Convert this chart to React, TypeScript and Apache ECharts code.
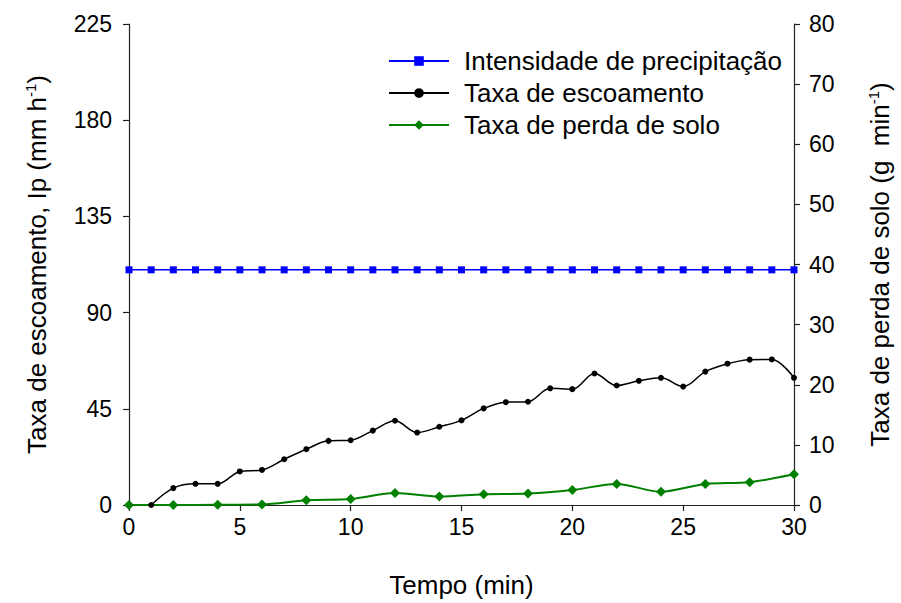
import React, { useEffect, useRef } from "react";
import * as echarts from "echarts";

const precipTimes = [0,1,2,3,4,5,6,7,8,9,10,11,12,13,14,15,16,17,18,19,20,21,22,23,24,25,26,27,28,29,30];
const precipValues = [110,110,110,110,110,110,110,110,110,110,110,110,110,110,110,110,110,110,110,110,110,110,110,110,110,110,110,110,110,110,110];

const runoffTimes = [1,2,3,4,5,6,7,8,9,10,11,12,13,14,15,16,17,18,19,20,21,22,23,24,25,26,27,28,29,30];
const runoffValues = [0,7.9,9.9,9.9,15.7,16.4,21.4,26.1,30.0,30.3,34.8,39.4,33.9,36.6,39.6,45.2,48.1,48.3,54.6,54.2,61.5,55.9,58.1,59.5,55.4,62.4,66.1,68.0,68.1,59.5];

const soilTimes = [0,2,4,6,8,10,12,14,16,18,20,22,24,26,28,30];
const soilValues = [0,0,0.05,0.1,0.8,1.0,2.0,1.4,1.8,1.9,2.5,3.5,2.2,3.5,3.8,5.1];

const xTicks = { min: 0, max: 30, interval: 5 };
const leftTicks = { min: 0, max: 225, interval: 45 };
const rightTicks = { min: 0, max: 80, interval: 10 };

const FONT = "'Liberation Sans', Arial, sans-serif";

export default function App() {
  const ref = useRef<HTMLDivElement>(null);
  useEffect(() => {
    if (!ref.current) return;
    const chart = echarts.init(ref.current, undefined, { renderer: "svg" });
    const axisLine = { show: true, lineStyle: { color: "#222", width: 1.2 } };
    const axisTick = { show: true, inside: false, length: 6, lineStyle: { color: "#222", width: 1.2 } };
    const axisLabel = { color: "#000", fontSize: 23, fontFamily: FONT };
    const sup = { fontSize: 15, color: "#000", fontFamily: FONT, verticalAlign: "top", padding: [0, 0, 13, 0] };
    chart.setOption({
      animation: false,
      backgroundColor: "#fff",
      textStyle: { fontFamily: FONT },
      grid: { left: 129, right: 101, top: 24, bottom: 96, containLabel: false },
      legend: {
        orient: "vertical",
        left: 388,
        top: 48,
        padding: 0,
        itemGap: 6,
        itemWidth: 60,
        itemHeight: 12,
        textStyle: { fontSize: 26, color: "#000", fontFamily: FONT, padding: [0, 0, 0, 10] },
        data: ["Intensidade de precipitação", "Taxa de escoamento", "Taxa de perda de solo"],
      },
      xAxis: {
        type: "value",
        ...xTicks,
        name: "Tempo (min)",
        nameLocation: "middle",
        nameGap: 67,
        nameTextStyle: { fontSize: 26, color: "#000", fontFamily: FONT },
        axisLine,
        axisTick,
        axisLabel: { ...axisLabel, margin: 10 },
        splitLine: { show: false },
      },
      yAxis: [
        {
          type: "value",
          position: "left",
          ...leftTicks,
          name: "Taxa de escoamento, Ip (mm h{sup|-1})",
          nameLocation: "middle",
          nameGap: 78,
          nameRotate: 90,
          nameTextStyle: { fontSize: 26, color: "#000", fontFamily: FONT, rich: { sup } },
          axisLine,
          axisTick,
          axisLabel: { ...axisLabel, margin: 17 },
          splitLine: { show: false },
        },
        {
          type: "value",
          position: "right",
          ...rightTicks,
          name: "Taxa de perda de solo (g  min{sup|-1})",
          nameLocation: "middle",
          nameGap: 72,
          nameRotate: 90,
          nameTextStyle: { fontSize: 26, color: "#000", fontFamily: FONT, rich: { sup } },
          axisLine,
          axisTick,
          axisLabel: { ...axisLabel, margin: 15 },
          splitLine: { show: false },
        },
      ],
      series: [
        {
          name: "Intensidade de precipitação",
          type: "line",
          yAxisIndex: 0,
          data: precipTimes.map((t, i) => [t, precipValues[i]]),
          symbol: "rect",
          symbolSize: 7,
          itemStyle: { color: "#0000ff" },
          lineStyle: { color: "#0000ff", width: 1.5 },
        },
        {
          name: "Taxa de escoamento",
          type: "line",
          yAxisIndex: 0,
          smooth: 0.35,
          data: runoffTimes.map((t, i) => [t, runoffValues[i]]),
          symbol: "circle",
          symbolSize: 6,
          itemStyle: { color: "#000" },
          lineStyle: { color: "#000", width: 1.5 },
        },
        {
          name: "Taxa de perda de solo",
          type: "line",
          yAxisIndex: 1,
          smooth: 0.3,
          data: soilTimes.map((t, i) => [t, soilValues[i]]),
          symbol: "diamond",
          symbolSize: 10,
          itemStyle: { color: "#008000" },
          lineStyle: { color: "#008000", width: 2 },
        },
      ],
    });
    return () => chart.dispose();
  }, []);
  return <div ref={ref} style={{ width: 901, height: 603, position: "absolute", left: 0, top: 0 }} />;
}
